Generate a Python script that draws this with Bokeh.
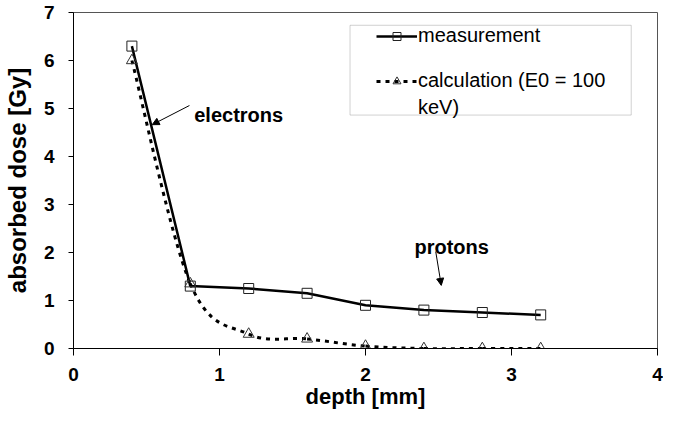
import numpy as np
from bokeh.plotting import figure
from bokeh.models import (Range1d, Legend, LegendItem, Arrow, NormalHead, Label,
                          BoxAnnotation, FixedTicker, ColumnDataSource)
from bokeh.embed import file_html
from bokeh.resources import INLINE

# ---- data ----
depth = [0.4, 0.8, 1.2, 1.6, 2.0, 2.4, 2.8, 3.2]
measurement = [6.3, 1.3, 1.25, 1.15, 0.9, 0.8, 0.75, 0.7]
calculation = [6.0, 1.35, 0.3, 0.2, 0.05, 0.0, 0.0, 0.0]
x_ticks = [0, 1, 2, 3, 4]
y_ticks = [0, 1, 2, 3, 4, 5, 6, 7]
series_names = ["measurement", "calculation (E0 = 100"]
series_name_wrap = "keV)"

FONT = "Liberation Sans"


def smooth_source(xs, ys):
    """Bezier control points (Catmull-Rom) for a smoothed line through the points."""
    x = np.asarray(xs, float)
    y = np.asarray(ys, float)
    xp = np.concatenate([[x[0]], x, [x[-1]]])
    yp = np.concatenate([[y[0]], y, [y[-1]]])
    n = len(x)
    d = dict(x0=[], y0=[], x1=[], y1=[], cx0=[], cy0=[], cx1=[], cy1=[])
    for i in range(n - 1):
        p0, p1, p2, p3 = i, i + 1, i + 2, i + 3
        d["x0"].append(xp[p1]); d["y0"].append(yp[p1])
        d["x1"].append(xp[p2]); d["y1"].append(yp[p2])
        d["cx0"].append(xp[p1] + (xp[p2] - xp[p0]) / 6.0)
        d["cy0"].append(yp[p1] + (yp[p2] - yp[p0]) / 6.0)
        d["cx1"].append(xp[p2] - (xp[p3] - xp[p1]) / 6.0)
        d["cy1"].append(yp[p2] - (yp[p3] - yp[p1]) / 6.0)
    return ColumnDataSource(d)


p = figure(width=663, height=411, output_backend="svg", toolbar_location=None,
           x_range=Range1d(0, 4), y_range=Range1d(0, 7),
           min_border_left=72, min_border_right=6, min_border_top=12, min_border_bottom=60)
p.background_fill_color = "white"
p.border_fill_color = "white"
p.outline_line_color = "#555555"
p.outline_line_width = 1
p.xgrid.visible = False
p.ygrid.visible = False

for ax, ticks in ((p.xaxis, x_ticks), (p.yaxis, y_ticks)):
    ax.ticker = FixedTicker(ticks=ticks)
    ax.axis_line_color = "black"
    ax.axis_line_width = 1
    ax.major_tick_line_color = "black"
    ax.major_tick_in = 0
    ax.minor_tick_line_color = None
    ax.major_label_text_font = FONT
    ax.major_label_text_font_style = "bold"
    ax.major_label_text_font_size = "19px"
    ax.major_label_text_color = "black"
    ax.axis_label_text_font = FONT
    ax.axis_label_text_font_style = "bold"
    ax.axis_label_text_color = "black"

p.xaxis.major_tick_out = 7
p.yaxis.major_tick_out = 5
p.xaxis.major_label_standoff = 12
p.yaxis.major_label_standoff = 14
p.xaxis.axis_label = "depth [mm]"
p.yaxis.axis_label = "absorbed dose [Gy]"
p.xaxis.axis_label_text_font_size = "22px"
p.yaxis.axis_label_text_font_size = "24px"
p.xaxis.axis_label_standoff = 0
p.yaxis.axis_label_standoff = 10

# ---- series ----
src_c = smooth_source(depth, calculation)

r_m_line = p.line(depth, measurement, line_color="black", line_width=2.5)
r_c_line = p.bezier(x0="x0", y0="y0", x1="x1", y1="y1", cx0="cx0", cy0="cy0",
                    cx1="cx1", cy1="cy1", source=src_c, line_color="black", line_width=3,
                    line_dash="4 5")
r_m_pts = p.scatter(depth, measurement, marker="square", size=10, line_color="#222222",
                    line_width=1, fill_alpha=0)
r_c_pts = p.scatter(depth, calculation, marker="triangle", size=11, line_color="#333333",
                    line_width=1, fill_alpha=0)

# ---- legend box and legend ----
box = BoxAnnotation(left=1.894, right=3.820, top=6.734, bottom=4.863,
                    fill_alpha=0, line_color="#666666", line_width=1, level="overlay")
p.add_layout(box)

legend = Legend(items=[LegendItem(label=series_names[0], renderers=[r_m_line, r_m_pts]),
                       LegendItem(label=series_names[1], renderers=[r_c_line, r_c_pts])],
                location=(303, 256), padding=0, spacing=22, margin=0,
                glyph_width=41, glyph_height=20, label_height=20, label_standoff=1,
                label_text_font=FONT, label_text_font_size="20px", label_text_color="black",
                background_fill_alpha=0, border_line_alpha=0)
p.add_layout(legend)
p.add_layout(Label(x=2.359, y=5.03, text=series_name_wrap, text_font=FONT,
                   text_font_size="20px", text_color="black", text_baseline="alphabetic"))

# ---- annotations ----
lab_font = dict(text_font=FONT, text_font_style="bold", text_font_size="20px",
                text_color="black", text_baseline="alphabetic")
p.add_layout(Label(x=0.827, y=4.87, text="electrons", **lab_font))
p.add_layout(Label(x=2.335, y=2.108, text="protons", **lab_font))
p.add_layout(Arrow(x_start=0.794, y_start=5.062, x_end=0.539, y_end=4.663,
                   line_color="black", line_width=1,
                   end=NormalHead(size=7, fill_color="black", line_color="black")))
p.add_layout(Arrow(x_start=2.481, y_start=2.019, x_end=2.519, y_end=1.315,
                   line_color="black", line_width=1,
                   end=NormalHead(size=7, fill_color="black", line_color="black")))

open("out.html", "w").write(file_html(p, INLINE))
